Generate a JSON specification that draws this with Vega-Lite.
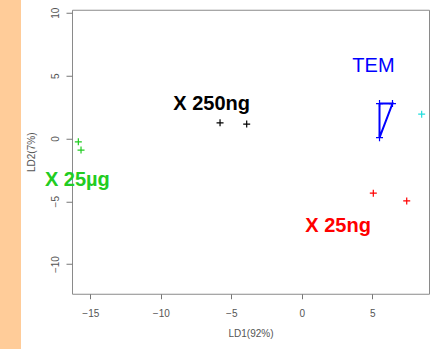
{
  "$schema": "https://vega.github.io/schema/vega-lite/v6.json",
  "padding": 0,
  "background": "white",
  "spacing": 4,
  "center": true,
  "config": {
    "font": "Liberation Sans",
    "view": {"stroke": "#8a8a8a", "strokeWidth": 1}
  },
  "hconcat": [
    {
      "width": 21,
      "height": 349,
      "view": {"fill": "#ffcc99", "stroke": null},
      "data": {"values": [{"t": ""}]},
      "mark": {"type": "text"},
      "encoding": {"text": {"field": "t"}}
    },
    {
      "width": 357,
      "height": 284,
      "layer": [
        {
          "data": {"values": [
            {"ld1": 5.51, "ld2": 2.77, "group": "TEM", "ord": 1},
            {"ld1": 6.43, "ld2": 2.77, "group": "TEM", "ord": 2},
            {"ld1": 5.51, "ld2": 0.06, "group": "TEM", "ord": 3},
            {"ld1": 5.51, "ld2": 2.77, "group": "TEM", "ord": 4}
          ]},
          "mark": {"type": "line", "strokeWidth": 2, "clip": true},
          "encoding": {
            "x": {"field": "ld1", "type": "quantitative"},
            "y": {"field": "ld2", "type": "quantitative"},
            "order": {"field": "ord"},
            "color": {"field": "group", "type": "nominal", "legend": null}
          }
        },
        {
          "data": {"values": [
            {"ld1": -15.85, "ld2": -0.27, "group": "X 25µg"},
            {"ld1": -15.66, "ld2": -0.93, "group": "X 25µg"},
            {"ld1": -5.8, "ld2": 1.24, "group": "X 250ng"},
            {"ld1": -3.91, "ld2": 1.14, "group": "X 250ng"},
            {"ld1": 5.07, "ld2": -4.36, "group": "X 25ng"},
            {"ld1": 7.44, "ld2": -4.97, "group": "X 25ng"},
            {"ld1": 8.5, "ld2": 1.93, "group": "other"},
            {"ld1": 5.51, "ld2": 2.77, "group": "TEM"},
            {"ld1": 6.43, "ld2": 2.77, "group": "TEM"},
            {"ld1": 5.51, "ld2": 0.06, "group": "TEM"}
          ]},
          "mark": {"type": "point", "shape": "M-1,0H1M0,-1V1", "filled": false, "size": 49, "strokeWidth": 1.2, "opacity": 1},
          "encoding": {
            "x": {"field": "ld1", "type": "quantitative"},
            "y": {"field": "ld2", "type": "quantitative"},
            "color": {"field": "group", "type": "nominal", "legend": null}
          }
        },
        {
          "data": {"values": [
            {"ld1": 5.08, "ld2": 5.8, "label": "TEM", "group": "TEM"}
          ]},
          "mark": {"type": "text", "fontSize": 20, "align": "center", "baseline": "middle", "fontWeight": "normal"},
          "encoding": {
            "x": {"field": "ld1", "type": "quantitative"},
            "y": {"field": "ld2", "type": "quantitative"},
            "text": {"field": "label"},
            "color": {"field": "group", "type": "nominal", "legend": null}
          }
        },
        {
          "data": {"values": [
            {"ld1": -6.4, "ld2": 2.75, "label": "X 250ng", "group": "X 250ng"},
            {"ld1": -15.92, "ld2": -3.3, "label": "X 25µg", "group": "X 25µg"},
            {"ld1": 2.57, "ld2": -7.0, "label": "X 25ng", "group": "X 25ng"}
          ]},
          "mark": {"type": "text", "fontSize": 20, "align": "center", "baseline": "middle", "fontWeight": "bold"},
          "encoding": {
            "x": {"field": "ld1", "type": "quantitative"},
            "y": {"field": "ld2", "type": "quantitative"},
            "text": {"field": "label"},
            "color": {"field": "group", "type": "nominal", "legend": null}
          }
        }
      ],
      "encoding": {
        "x": {
          "field": "ld1", "type": "quantitative",
          "scale": {"domain": [-16.3, 9.02], "nice": false, "zero": false},
          "axis": {
            "title": "LD1(92%)", "values": [-15, -10, -5, 0, 5], "grid": false, "domain": false,
            "tickColor": "#777", "tickSize": 5, "labelColor": "#555", "labelFontSize": 10,
            "labelPadding": 10, "titleFontSize": 10, "titleFontWeight": "normal", "titleColor": "#555", "titlePadding": 10
          }
        },
        "y": {
          "field": "ld2", "type": "quantitative",
          "scale": {"domain": [-12.36, 10.24], "nice": false, "zero": false},
          "axis": {
            "title": "LD2(7%)", "values": [-10, -5, 0, 5, 10], "grid": false, "domain": false,
            "tickColor": "#777", "tickSize": 6, "labelColor": "#555", "labelFontSize": 10,
            "labelAngle": -90, "labelAlign": "center", "labelBaseline": "middle",
            "labelPadding": 11, "titleFontSize": 10, "titleFontWeight": "normal", "titleColor": "#555", "titlePadding": 14
          }
        },
        "color": {
          "field": "group", "type": "nominal",
          "scale": {"domain": ["TEM", "X 250ng", "X 25µg", "X 25ng", "other"], "range": ["#0000ff", "#000000", "#22cc22", "#ff0000", "#22dddd"]},
          "legend": null
        }
      }
    }
  ]
}
